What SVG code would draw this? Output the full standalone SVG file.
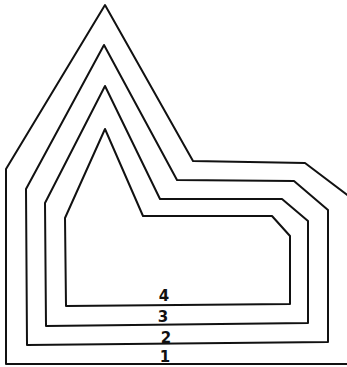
<svg xmlns="http://www.w3.org/2000/svg" width="347" height="367" viewBox="0 0 347 367">
<style>
.ln{fill:none;stroke:#111;stroke-width:2;stroke-linejoin:round}
.lb{font-family:"DejaVu Sans",sans-serif;font-weight:bold;font-size:15px;fill:#111;text-anchor:middle}
</style>
<rect width="347" height="367" fill="#fff"/>
<g id="connectors"></g>
<g id="outline1"><polygon class="ln" points="6,364 6,169 105,5 193,161 305,163 350,197 350,364"/></g>
<g id="outline2"><polygon class="ln" points="27,345 26,189 104,45 177,180 294,181 328,210 328,342"/></g>
<g id="outline3"><polygon class="ln" points="46,326 45,203 105,86 160,199 282,199 308,221 308,323"/></g>
<g id="outline4"><polygon class="ln" points="66,306 65,218 105,129 143,216 272,216 290,236 290,304"/></g>
<g id="labels">
<text class="lb" x="164" y="301">4</text>
<text class="lb" x="163" y="322">3</text>
<text class="lb" x="166" y="343">2</text>
<text class="lb" x="165" y="362">1</text>
</g>
</svg>
